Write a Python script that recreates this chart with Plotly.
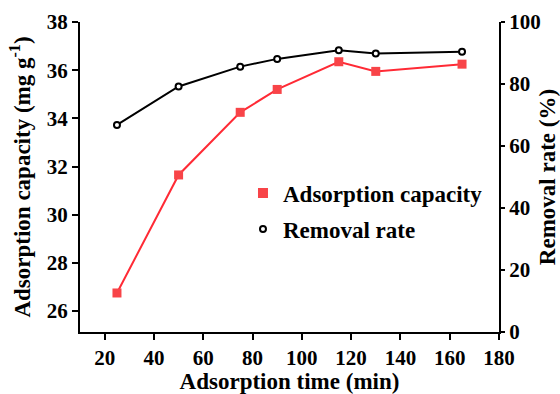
import plotly.graph_objects as go

time_min = [25, 50, 75, 90, 115, 130, 165]
adsorption_capacity = [26.75, 31.65, 34.25, 35.2, 36.35, 35.95, 36.25]
removal_rate = [66.8, 79.2, 85.6, 88.1, 90.9, 89.8, 90.4]

x_ticks = [20, 40, 60, 80, 100, 120, 140, 160, 180]
left_ticks = [26, 28, 30, 32, 34, 36, 38]
right_ticks = [0, 20, 40, 60, 80, 100]

FONT = "Liberation Serif, Times New Roman, serif"
FS = 23
TICK_FS = 21
tick_font = dict(family=FONT, size=TICK_FS, color="black")
title_font = dict(family=FONT, size=FS, color="black")

RED_LINE = "#ff2a35"
RED_MARK = "#f84448"

fig = go.Figure()
fig.add_trace(go.Scatter(
    x=time_min, y=adsorption_capacity, mode="lines+markers",
    line=dict(color=RED_LINE, width=2),
    marker=dict(symbol="square", size=9, color=RED_MARK),
    yaxis="y", showlegend=False,
))
fig.add_trace(go.Scatter(
    x=time_min, y=removal_rate, mode="lines+markers",
    line=dict(color="black", width=2),
    marker=dict(symbol="circle", size=6, color="white", line=dict(color="black", width=2)),
    yaxis="y2", showlegend=False,
))
# legend-only entries (marker only, like the reference)
fig.add_trace(go.Scatter(
    x=[None], y=[None], mode="markers", name="<b>Adsorption capacity</b>",
    marker=dict(symbol="square", size=10, color=RED_MARK),
    showlegend=True, legend="legend",
))
fig.add_trace(go.Scatter(
    x=[None], y=[None], mode="markers", name="<b>Removal rate</b>",
    marker=dict(symbol="circle", size=6, color="white", line=dict(color="black", width=2)),
    showlegend=True, legend="legend2", yaxis="y2",
))

axis_common = dict(showline=True, linecolor="black", linewidth=2, ticks="outside",
                   ticklen=6, tickwidth=2, tickcolor="black", showgrid=False,
                   zeroline=False, tickfont=tick_font, automargin=False)

fig.update_layout(
    width=560, height=394,
    margin=dict(l=80, r=61, t=22, b=62),
    paper_bgcolor="white", plot_bgcolor="white",
    showlegend=True,
    xaxis=dict(range=[10, 180], tickvals=x_ticks, ticktext=[f"<b>{v}</b>" for v in x_ticks],
               title=dict(text="<b>Adsorption time (min)</b>", font=title_font, standoff=6),
               **axis_common),
    yaxis=dict(range=[25.13, 38], tickvals=left_ticks, ticktext=[f"<b>{v}</b>" for v in left_ticks],
               title=dict(text="<b>Adsorption capacity (mg g<sup>-1</sup>)</b>", font=title_font, standoff=10),
               **axis_common),
    yaxis2=dict(range=[0, 100], overlaying="y", side="right", tickvals=right_ticks,
                ticktext=[f"<b>{v}</b>" for v in right_ticks],
                **{**axis_common, "ticklen": 4}),
    legend=dict(x=0.389, y=0.448, xanchor="left", yanchor="middle", bgcolor="rgba(0,0,0,0)",
                font=dict(family=FONT, size=FS, color="black")),
    legend2=dict(x=0.389, y=0.332, xanchor="left", yanchor="middle", bgcolor="rgba(0,0,0,0)",
                 font=dict(family=FONT, size=FS, color="black")),
    annotations=[dict(
        text="<b>Removal rate (%)</b>", textangle=-90,
        xref="paper", yref="paper", x=1.115, y=0.50,
        xanchor="center", yanchor="middle", showarrow=False,
        font=title_font,
    )],
)

# remove the default page margin so the 560x394 figure fills the window exactly
fig.write_html("out.html",
               config={"displayModeBar": False},
               post_script="document.body.style.margin='0';document.body.style.overflow='hidden';")
